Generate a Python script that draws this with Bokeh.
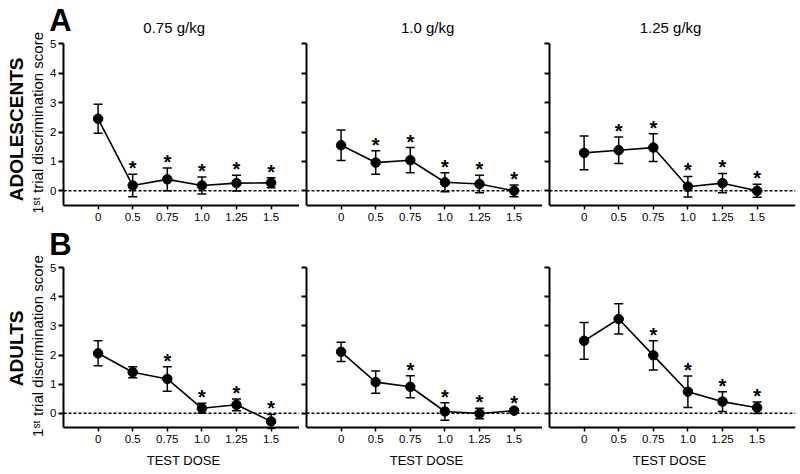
import math
from bokeh.plotting import figure
from bokeh.models import Range1d, FixedTicker, Label, ColumnDataSource
from bokeh.layouts import column, row
from bokeh.embed import file_html
from bokeh.resources import INLINE
from bokeh.core.properties import value

# ---------------- data ----------------
doses = ["0", "0.5", "0.75", "1.0", "1.25", "1.5"]
dose_titles = ["0.75 g/kg", "1.0 g/kg", "1.25 g/kg"]
groups = ["ADOLESCENTS", "ADULTS"]
group_letters = ["A", "B"]
y_ticks = [0, 1, 2, 3, 4, 5]
y_label = "1\u02e2\u1d57 trial discrimination score"
x_label = "TEST DOSE"

adol_075_mean = [2.45, 0.18, 0.39, 0.18, 0.26, 0.27]
adol_075_sem = [0.49, 0.38, 0.39, 0.29, 0.27, 0.17]
adol_075_sig = [0, 1, 1, 1, 1, 1]

adol_100_mean = [1.55, 0.96, 1.04, 0.29, 0.23, 0.00]
adol_100_sem = [0.52, 0.40, 0.43, 0.32, 0.30, 0.20]
adol_100_sig = [0, 1, 1, 1, 1, 1]

adol_125_mean = [1.29, 1.38, 1.47, 0.14, 0.26, 0.00]
adol_125_sem = [0.57, 0.45, 0.47, 0.35, 0.33, 0.22]
adol_125_sig = [0, 1, 1, 1, 1, 1]

adult_075_mean = [2.06, 1.41, 1.18, 0.17, 0.29, -0.28]
adult_075_sem = [0.43, 0.19, 0.42, 0.17, 0.20, 0.24]
adult_075_sig = [0, 0, 1, 1, 1, 1]

adult_100_mean = [2.11, 1.07, 0.91, 0.06, -0.01, 0.09]
adult_100_sem = [0.33, 0.38, 0.38, 0.30, 0.18, 0.05]
adult_100_sig = [0, 0, 1, 1, 1, 1]

adult_125_mean = [2.49, 3.24, 1.99, 0.74, 0.40, 0.19]
adult_125_sem = [0.63, 0.52, 0.50, 0.54, 0.34, 0.20]
adult_125_sig = [0, 0, 1, 1, 1, 1]

panels = [
    [(adol_075_mean, adol_075_sem, adol_075_sig),
     (adol_100_mean, adol_100_sem, adol_100_sig),
     (adol_125_mean, adol_125_sem, adol_125_sig)],
    [(adult_075_mean, adult_075_sem, adult_075_sig),
     (adult_100_mean, adult_100_sem, adult_100_sig),
     (adult_125_mean, adult_125_sem, adult_125_sig)],
]

# ---------------- layout / style ----------------
FONT = "Liberation Sans"
PX_PER_CAT = 34.6
LEFT_AREA = 63          # width of the label area left of panel 1's y axis
FRAME_W = [236, 236, 246]
ROW_HEIGHT = [225, 247]
# visible y window of each row: room for titles / letters above, tick labels below
ROW_Y = [(-1.18, 6.473), (-2.037, 6.454)]
xs = list(range(1, len(doses) + 1))


def make_panel(r, c, mean, sem, sig):
    fw = FRAME_W[c]
    x_end = fw / PX_PER_CAT
    if c == 0:
        left, x_start, width = 0, -LEFT_AREA / PX_PER_CAT, LEFT_AREA + fw
    else:
        left, x_start, width = 7, 0.0, 7 + fw
    right = 3 if c == 2 else 0
    width += right
    p = figure(width=width, height=ROW_HEIGHT[r], title=None,
               x_range=Range1d(x_start, x_end),
               y_range=Range1d(*ROW_Y[r]),
               output_backend="svg", toolbar_location=None,
               min_border_left=left, min_border_right=right,
               min_border_top=0, min_border_bottom=0)
    p.outline_line_color = None
    p.xgrid.visible = False
    p.ygrid.visible = False
    p.background_fill_color = "white"
    p.border_fill_color = "white"

    # x axis
    xa = p.xaxis[0]
    xa.fixed_location = -0.5
    xa.bounds = (0, x_end)
    xa.ticker = FixedTicker(ticks=xs)
    xa.major_label_overrides = {x: d for x, d in zip(xs, doses)}
    xa.major_tick_line_color = "black"
    xa.major_tick_line_width = 1.5
    xa.major_tick_out = 4
    xa.major_tick_in = 0
    xa.minor_tick_line_color = None
    xa.axis_line_width = 2
    xa.axis_line_color = "black"
    xa.major_label_standoff = 3
    xa.major_label_text_font = FONT
    xa.major_label_text_font_size = "11.5px"
    xa.major_label_text_color = "black"

    # y axis
    ya = p.yaxis[0]
    ya.bounds = (-0.5, 5)
    ya.ticker = FixedTicker(ticks=y_ticks)
    ya.axis_line_width = 2
    ya.axis_line_color = "black"
    ya.major_tick_line_width = 2
    ya.major_tick_line_color = "black"
    ya.major_tick_out = 5
    ya.major_tick_in = 0
    ya.minor_tick_line_color = None
    if c == 0:
        ya.fixed_location = 0
        ya.major_label_standoff = 2
        ya.major_label_text_font = FONT
        ya.major_label_text_font_size = "11.5px"
        ya.major_label_text_color = "black"
    else:
        ya.major_label_standoff = 0
        ya.major_label_overrides = {t: "" for t in y_ticks}

    # dotted zero reference line across the panel
    p.segment(x0=[0], y0=[0], x1=[x_end], y1=[0], line_color="black",
              line_width=1.5, line_dash="3 2")

    upper = [m + s for m, s in zip(mean, sem)]
    lower = [m - s for m, s in zip(mean, sem)]
    src = ColumnDataSource(dict(x=xs, y=mean, up=upper, lo=lower))
    p.segment(x0="x", y0="lo", x1="x", y1="up", source=src,
              line_color="black", line_width=1.5)
    p.scatter(x="x", y="up", source=src, marker="dash", size=9,
              line_color="black", line_width=1.5)
    p.scatter(x="x", y="lo", source=src, marker="dash", size=9,
              line_color="black", line_width=1.5)
    p.line(x="x", y="y", source=src, line_color="black", line_width=1.6)
    p.scatter(x="x", y="y", source=src, marker="circle", size=9.5,
              fill_color="black", line_color="black")

    sx = [x for x, s in zip(xs, sig) if s]
    sy = [u for u, s in zip(upper, sig) if s]
    p.text(x=sx, y=sy, text=["*"] * len(sx), text_font=value(FONT),
           text_font_size="20px", text_font_style="bold",
           text_align="center", text_baseline="alphabetic",
           y_offset=-6, text_color="black")

    # column title / x axis title
    if r == 0:
        tx = 3.2 if c == 0 else 3.5
        p.add_layout(Label(x=tx, y=5.56, text=dose_titles[c], text_font=FONT,
                           text_font_size="15px", text_align="center",
                           text_baseline="middle", text_color="black"))
    else:
        p.add_layout(Label(x=3.47, y=-1.62, text=x_label, text_font=FONT,
                           text_font_size="13px", text_align="center",
                           text_baseline="middle", text_color="black"))
    # row labels and y axis title
    if c == 0:
        ly = 5.79 if r == 0 else 5.80
        p.add_layout(Label(x=-0.09, y=ly, text=group_letters[r], text_font=FONT,
                           text_font_size="31px", text_font_style="bold",
                           text_align="center", text_baseline="middle",
                           text_color="black"))
        gy = 2.09 if r == 0 else 2.23
        p.add_layout(Label(x=-1.36, y=gy, text=groups[r], text_font=FONT,
                           text_font_size="19px", text_font_style="bold",
                           text_align="center", text_baseline="middle",
                           angle=math.pi / 2, text_color="black"))
        p.add_layout(Label(x=-0.75, y=2.31, text=y_label, text_font=FONT,
                           text_font_size="15px", text_align="center",
                           text_baseline="middle", angle=math.pi / 2,
                           text_color="black"))
    return p


rows = []
for r in range(2):
    figs = [make_panel(r, c, *panels[r][c]) for c in range(3)]
    rows.append(row(*figs, spacing=0))

layout = column(*rows, spacing=0)

with open("out.html", "w") as f:
    f.write(file_html(layout, INLINE))
